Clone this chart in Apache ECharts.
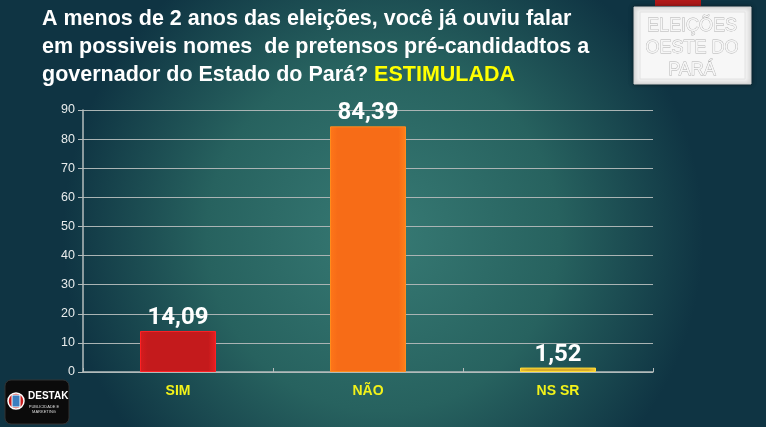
<!DOCTYPE html>
<html><head><meta charset="utf-8">
<script src="https://cdn.jsdelivr.net/npm/echarts@6/dist/echarts.min.js"></script>
<style>html,body{margin:0;padding:0;width:766px;height:427px;overflow:hidden;background:#1d5058}#c{width:766px;height:427px}</style>
</head><body><div id="c"></div>
<script>
const categories = ['SIM', 'NÃO', 'NS SR'];
const values = [14.09, 84.39, 1.52];
const barColors = ['#c41a1c', '#f76c17', '#d9ab2a'];
const yTicks = [0, 90, 10];

const chart = echarts.init(document.getElementById('c'));
chart.setOption({
  backgroundColor: {type:'radial', x:0.5, y:0.55, r:0.75, colorStops:[{offset:0,color:'#377a74'},{offset:0.55,color:'#27625f'},{offset:1,color:'#0f3443'}]},
  animation:false,
  title: {
    left: 37, top: 0,
    text: '{w|A menos de 2 anos das eleições, você já ouviu falar}\n{w|em possiveis nomes  de pretensos pré-candidadtos a}\n{w|governador do Estado do Pará? }{y|ESTIMULADA}',
    textStyle: {
      rich: {
        w: {color:'#ffffff', fontSize:21.5, fontWeight:'bold', fontFamily:'Liberation Sans, Arial', lineHeight:28},
        y: {color:'#ffff00', fontSize:21.5, fontWeight:'bold', fontFamily:'Liberation Sans, Arial', lineHeight:28}
      }
    }
  },
  grid: {left:83, right:113, top:110, bottom:55},
  xAxis: {
    type:'category', data: categories,
    axisLine:{lineStyle:{color:'#b4bcbc', width:1.5}},
    axisTick:{show:true, inside:true, length:4, lineStyle:{color:'#b4bcbc'}},
    axisLabel:{color:'#f2f21a', fontSize:14, fontWeight:'bold', fontFamily:'Liberation Sans, Arial', margin:12}
  },
  yAxis: {
    type:'value', min:yTicks[0], max:yTicks[1], interval:yTicks[2],
    axisLine:{show:true, lineStyle:{color:'#b4bcbc', width:1.5}},
    axisTick:{show:true, length:5, lineStyle:{color:'#b4bcbc'}},
    axisLabel:{color:'#e8ecec', fontSize:12.5, fontFamily:'Liberation Sans, Arial', margin:8},
    splitLine:{lineStyle:{color:'#aab4b4', width:1.2}}
  },
  series: [{
    type:'bar', barWidth:'40%',
    data: values.map((v,i)=>({value:v, itemStyle:{color:{type:'linear',x:0,y:0,x2:1,y2:0,colorStops:[{offset:0,color:echarts.color.lift(barColors[i],-0.1)},{offset:0.1,color:barColors[i]},{offset:0.9,color:barColors[i]},{offset:1,color:echarts.color.lift(barColors[i],-0.2)}]}, borderColor:echarts.color.lift(barColors[i],-0.3), borderWidth:1}})),
    label:{show:true, position:'top', distance:1, color:'#ffffff', fontSize:24, fontWeight:'bold', fontFamily:'Roboto, Liberation Sans', formatter:p=>p.value.toFixed(2).replace('.',',')}
  }],
  graphic: [
    {type:'rect', shape:{x:655,y:0,width:46,height:6}, style:{fill:'#b01818'}},
    {type:'rect', shape:{x:634,y:7,width:117,height:77}, style:{fill:'#f2f2f2', stroke:'#d0d0d0', lineWidth:1, shadowBlur:4, shadowColor:'rgba(0,0,0,0.5)'}},
    {type:'rect', shape:{x:640,y:12,width:105,height:67}, style:{fill:'#f7f7f7', stroke:'#e2e2e2', lineWidth:1}},
    {type:'text', x:692, y:15, style:{text:'ELEIÇÕES\nOESTE DO\nPARÁ', align:'center', fill:'#f6f6f6', stroke:'#b0b0b0', lineWidth:0.8, font:'18px Liberation Sans', lineHeight:22}},
    {type:'rect', shape:{x:5,y:380,width:64,height:44,r:6}, style:{fill:'#0b0b0b', stroke:'#333', lineWidth:1}},
    {type:'circle', shape:{cx:16,cy:401,r:8}, style:{fill:'#c81e1e', stroke:'#ffffff', lineWidth:1.5}},
    {type:'rect', shape:{x:12,y:395,width:8,height:12}, style:{fill:'#3a7fc0', stroke:'#ffffff', lineWidth:1}},
    {type:'text', x:28, y:391, style:{text:'DESTAK', fill:'#ffffff', font:'bold 10px Liberation Sans Narrow, Liberation Sans'}},
    {type:'text', x:44, y:404, style:{text:'PUBLICIDADE E\nMARKETING', align:'center', fill:'#dddddd', font:'4px Liberation Sans', lineHeight:5}}
  ]
});
</script></body></html>
